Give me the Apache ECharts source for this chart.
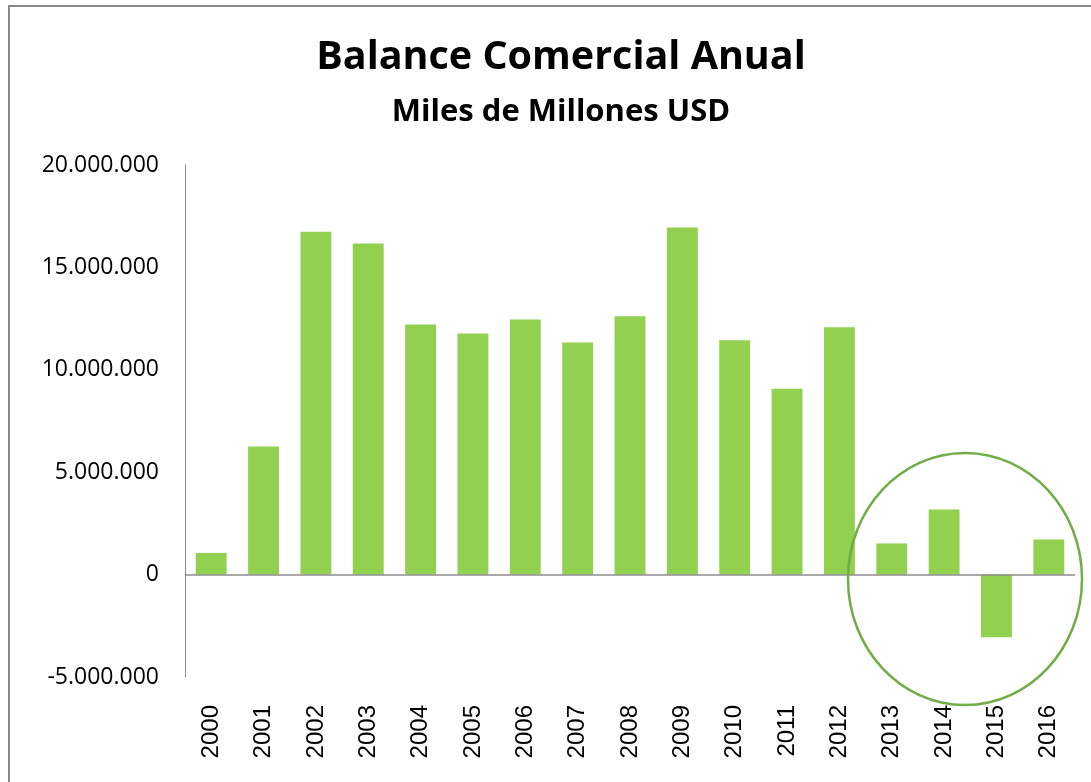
<!DOCTYPE html>
<html>
<head>
<meta charset="utf-8">
<script src="https://cdn.jsdelivr.net/npm/echarts@6/dist/echarts.min.js"></script>
<style>
  html, body { margin: 0; padding: 0; background: #fff; }
  #chart { width: 1091px; height: 782px; }
</style>
</head>
<body>
<div id="chart"></div>
<script>
var years = ['2000', '2001', '2002', '2003', '2004', '2005', '2006', '2007', '2008',
             '2009', '2010', '2011', '2012', '2013', '2014', '2015', '2016'];
var balance = [1060000, 6260000, 16740000, 16170000, 12210000, 11770000, 12450000,
               11330000, 12620000, 16950000, 11440000, 9080000, 12080000,
               1520000, 3180000, -3060000, 1710000];
var yTicks = { min: -5000000, max: 20000000, interval: 5000000 };

var chart = echarts.init(document.getElementById('chart'));

function dots(v) {
    var s = String(Math.abs(v)).replace(/\B(?=(\d{3})+(?!\d))/g, '.');
    return (v < 0 ? '-' : '') + s;
}

var option = {
    backgroundColor: '#fff',
    animation: false,
    title: [
        {
            text: 'Balance Comercial Anual',
            left: 556, top: 33, textAlign: 'center',
            textStyle: { fontFamily: 'Open Sans', fontWeight: 'bold', fontSize: 39.5, color: '#000' }
        },
        {
            text: 'Miles de Millones USD',
            left: 556, top: 92, textAlign: 'center',
            textStyle: { fontFamily: 'Open Sans', fontWeight: 'bold', fontSize: 31, color: '#000' }
        }
    ],
    grid: { left: 185, right: 16, top: 165, bottom: 105 },
    xAxis: {
        type: 'category',
        data: years,
        axisLine: { show: false, onZero: false },
        axisTick: { show: false },
        axisLabel: {
            rotate: 90, margin: 28, interval: 0,
            fontFamily: 'Liberation Sans', fontSize: 24, color: '#000'
        }
    },
    yAxis: {
        type: 'value',
        min: yTicks.min, max: yTicks.max, interval: yTicks.interval,
        axisLine: { show: true, lineStyle: { color: '#8c8c8c', width: 1 } },
        axisTick: { show: false },
        splitLine: { show: false },
        axisLabel: {
            margin: 26, fontFamily: 'Open Sans', fontSize: 23, color: '#000',
            formatter: dots
        }
    },
    series: [{
        type: 'bar',
        data: balance,
        barCategoryGap: '41%',
        itemStyle: { color: '#92D050' },
        markLine: {
            silent: true,
            symbol: 'none',
            label: { show: false },
            lineStyle: { color: '#8c8c8c', width: 1.5, type: 'solid' },
            data: [{ yAxis: 0 }]
        }
    }],
    graphic: [
        {
            type: 'rect',
            shape: { x: 9, y: 6, width: 1100, height: 800 },
            style: { fill: 'none', stroke: '#888', lineWidth: 2 },
            silent: true
        },
        {
            type: 'ellipse',
            shape: { cx: 965, cy: 579, rx: 117, ry: 126 },
            style: { fill: 'none', stroke: '#70AD47', lineWidth: 2.5 },
            silent: true,
            z: 100
        }
    ]
};

chart.setOption(option);
</script>
</body>
</html>
